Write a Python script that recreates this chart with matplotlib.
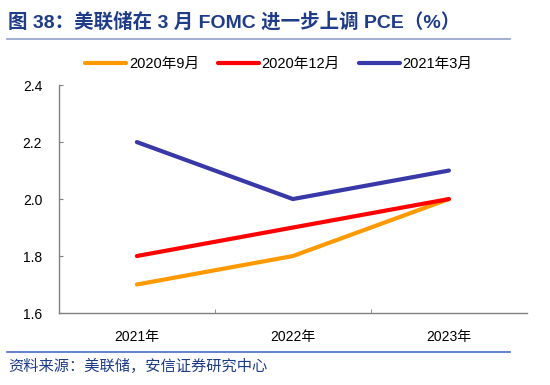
import numpy as np
import matplotlib.pyplot as plt
from matplotlib.lines import Line2D

plt.rcParams['font.family'] = ['Liberation Sans', 'Noto Sans CJK SC']

# datos
years = ['2021年', '2022年', '2023年']
pce_sep2020 = [1.7, 1.8, 2.0]
pce_dec2020 = [1.8, 1.9, 2.0]
pce_mar2021 = [2.2, 2.0, 2.1]
series_names = ['2020年9月', '2020年12月', '2021年3月']
colors = ['#FF9900', '#FF0000', '#3838A8']

fig = plt.figure(figsize=(5.5, 3.85), dpi=100)
ax = fig.add_axes([0.107, 0.187, 0.851, 0.592])

x = np.arange(len(years))
for vals, name, c in zip([pce_sep2020, pce_dec2020, pce_mar2021], series_names, colors):
    ax.plot(x, vals, color=c, lw=3, label=name, solid_capstyle='round')

ax.set_xlim(-0.5, 2.5)
ax.set_ylim(1.6, 2.4)
ax.set_yticks([1.6, 1.8, 2.0, 2.2, 2.4])
ax.set_yticklabels(['1.6', '1.8', '2.0', '2.2', '2.4'])
ax.set_xticks(x)
ax.set_xticklabels(years)
ax.set_xticks([0.5, 1.5], minor=True)
ax.tick_params(axis='x', which='major', length=0, pad=12, labelsize=10)
ax.tick_params(axis='x', which='minor', direction='in', length=3, color='#808080')
ax.tick_params(axis='y', direction='in', length=3, pad=12, labelsize=10, color='#808080')
for s in ['top', 'right']:
    ax.spines[s].set_visible(False)
for s in ['left', 'bottom']:
    ax.spines[s].set_color('#808080')
    ax.spines[s].set_linewidth(1)

ax.legend(loc='lower center', bbox_to_anchor=(0.47, 1.005), ncol=3, frameon=False,
          fontsize=10.5, handlelength=2.8, columnspacing=1.3, handletextpad=0.2)

# título y fuente
fig.text(0.015, 0.943, '图 38：美联储在 3 月 FOMC 进一步上调 PCE（%）', fontsize=14,
         fontweight='bold', color='#1F3C88', va='center')
fig.add_artist(Line2D([0.013, 0.928], [0.898, 0.898], color='#8EA2CC', lw=1.2))
fig.add_artist(Line2D([0.013, 0.928], [0.086, 0.086], color='#4A6CC0', lw=1.2))
fig.text(0.015, 0.048, '资料来源：美联储，安信证券研究中心', fontsize=11, style='italic',
         color='#1F3C88', va='center')

plt.savefig('out.png', dpi=100)
